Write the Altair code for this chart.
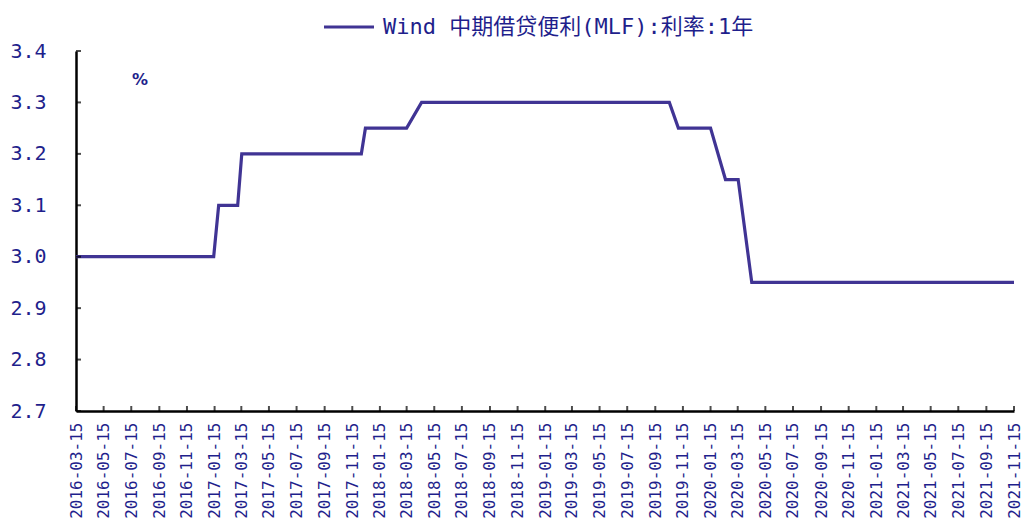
import altair as alt
import pandas as pd

# ---- data ----
dates = ["2016-03-15", "2017-01-13", "2017-01-24", "2017-03-07", "2017-03-16",
         "2017-12-05", "2017-12-14", "2018-03-15", "2018-04-17", "2019-10-16",
         "2019-11-05", "2020-01-15", "2020-02-17", "2020-03-16", "2020-04-15",
         "2021-11-15"]
rates = [3.00, 3.00, 3.10, 3.10, 3.20,
         3.20, 3.25, 3.25, 3.30, 3.30,
         3.25, 3.25, 3.15, 3.15, 2.95,
         2.95]
series_name = "Wind 中期借贷便利(MLF):利率:1年"

tick_dates = ["2016-03-15", "2016-05-15", "2016-07-15", "2016-09-15", "2016-11-15",
              "2017-01-15", "2017-03-15", "2017-05-15", "2017-07-15", "2017-09-15", "2017-11-15",
              "2018-01-15", "2018-03-15", "2018-05-15", "2018-07-15", "2018-09-15", "2018-11-15",
              "2019-01-15", "2019-03-15", "2019-05-15", "2019-07-15", "2019-09-15", "2019-11-15",
              "2020-01-15", "2020-03-15", "2020-05-15", "2020-07-15", "2020-09-15", "2020-11-15",
              "2021-01-15", "2021-03-15", "2021-05-15", "2021-07-15", "2021-09-15", "2021-11-15"]
y_ticks = [2.7, 2.8, 2.9, 3.0, 3.1, 3.2, 3.3, 3.4]
unit_label = "%"

LINE = "#403494"
NAVY = "#1f1f8c"
W, H = 938, 360


def ms(s):
    return int(pd.Timestamp(s, tz="UTC").value // 10**6)


tick_ms = [ms(s) for s in tick_dates]

df = pd.DataFrame({"date": dates, "rate": rates, "series": series_name})
df_xt = pd.DataFrame({"d": tick_dates})
df_yt = pd.DataFrame({"v": y_ticks})
df_unit = pd.DataFrame({"t": [unit_label]})

xscale = alt.Scale(type="utc", domain=[tick_ms[0], tick_ms[-1]], nice=False)
yscale = alt.Scale(domain=[2.7, 3.4], nice=False, zero=False)

x_axis = alt.Axis(values=tick_ms, format="%Y-%m-%d", labelAngle=-90,
                  labelAlign="right", labelBaseline="middle",
                  labelFont="DejaVu Sans Mono", labelFontSize=16,
                  labelColor=NAVY, labelPadding=11, labelOverlap=False,
                  labelFlush=False, labelBound=False,
                  ticks=False, grid=False, domainColor="black",
                  domainWidth=2.5, title=None)
y_axis = alt.Axis(values=y_ticks, format=".1f",
                  labelFont="DejaVu Sans Mono", labelFontSize=20,
                  labelColor=NAVY, labelPadding=30, ticks=False,
                  grid=False, domainColor="black", domainWidth=2.5,
                  title=None)

line = alt.Chart(df).mark_line(strokeWidth=3.2).encode(
    x=alt.X("date:T", scale=xscale, axis=x_axis),
    y=alt.Y("rate:Q", scale=yscale, axis=y_axis),
    color=alt.Color("series:N", scale=alt.Scale(range=[LINE]),
                    legend=alt.Legend(orient="none", legendX=246, legendY=-51,
                                      title=None, symbolType="stroke",
                                      symbolSize=2500, symbolStrokeWidth=3.2,
                                      labelFont="DejaVu Sans Mono, Noto Sans CJK SC",
                                      labelFontSize=22, labelColor=NAVY,
                                      labelOffset=7, labelLimit=700)),
)

xticks = alt.Chart(df_xt).mark_tick(orient="vertical", size=5, thickness=2,
                                    color="black").encode(
    x=alt.X("d:T", scale=xscale, axis=x_axis),
    y=alt.value(H - 2.5),
)

yticks = alt.Chart(df_yt).mark_tick(orient="horizontal", size=5, thickness=2,
                                    color="black").encode(
    y=alt.Y("v:Q", scale=yscale, axis=y_axis),
    x=alt.value(2.5),
)

unit = alt.Chart(df_unit).mark_text(font="DejaVu Sans", fontSize=16,
                                    fontWeight="bold", color=NAVY).encode(
    text="t:N", x=alt.value(64), y=alt.value(29))

chart = alt.layer(line, xticks, yticks, unit).properties(
    width=W, height=H,
    background="white",
    autosize=alt.AutoSizeParams(type="none"),
    padding={"left": 68, "top": 43, "right": 10, "bottom": 111},
).configure_view(stroke=None)

chart.save("out.html", embed_options={"renderer": "svg", "actions": False})
